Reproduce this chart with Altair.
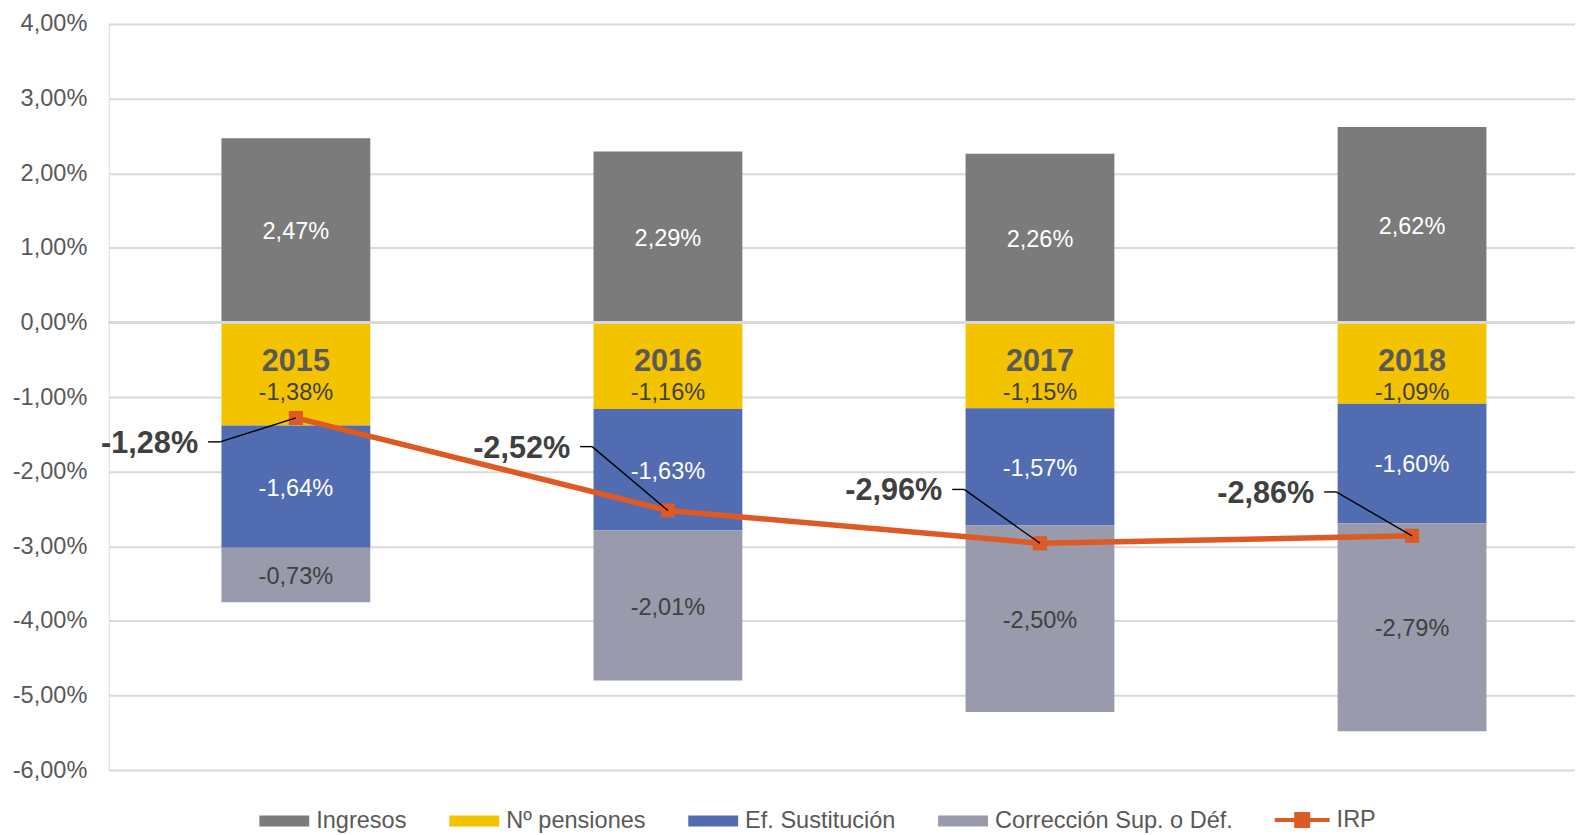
import altair as alt
import pandas as pd

# ---------------- data ----------------
years = ["2015", "2016", "2017", "2018"]
series = ["Ingresos", "Nº pensiones", "Ef. Sustitución", "Corrección Sup. o Déf."]
ingresos = [2.47, 2.29, 2.26, 2.62]
pensiones = [-1.38, -1.16, -1.15, -1.09]
sustitucion = [-1.64, -1.63, -1.57, -1.60]
correccion = [-0.73, -2.01, -2.50, -2.79]
irp = [-1.28, -2.52, -2.96, -2.86]
y_ticks = [-6, -5, -4, -3, -2, -1, 0, 1, 2, 3, 4]

# ---------------- style ----------------
colors = ["#7B7B7B", "#F4C300", "#516CB0", "#999AAB"]
IRP_COLOR = "#DE5A24"
GRID = "#D9D9D9"
FONT = "Liberation Sans"
# pixel offset (vertical) of each IRP call-out relative to its point
callout_dy = {"2015": 24, "2016": -64, "2017": -54, "2018": -44}

rows = []
for si, (name, vals) in enumerate(zip(series, [ingresos, pensiones, sustitucion, correccion])):
    for yr, v in zip(years, vals):
        rows.append({"year": yr, "serie": name, "value": v, "order": si})
bars_df = pd.DataFrame(rows)
irp_df = pd.DataFrame({"year": years, "irp": irp})


def fmt(v):
    return "replace(replace(format(" + v + ", '.2f'), '.', ','), '\u2212', '-') + '%'"


xscale = alt.Scale(domain=years, paddingInner=0.6, paddingOuter=0.2705, align=0.56, round=False)
yscale = alt.Scale(domain=[-6, 4], nice=False, zero=False)
X = alt.X("year:N", scale=xscale, axis=None)

yaxis = alt.Axis(values=y_ticks, labelExpr=fmt("datum.value"), grid=True, gridColor=GRID,
                 gridWidth=2, domain=False, ticks=False, tickSize=0, labelFontSize=23.6,
                 labelColor="#595959", labelPadding=22, title=None, labelFont=FONT)

base_b = alt.Chart(bars_df).transform_stack(
    stack="value", as_=["v0", "v1"], groupby=["year"],
    sort=[alt.SortField("order")], offset="zero"
).transform_calculate(
    mid="(datum.v0 + datum.v1) / 2", label=fmt("datum.value")
)

bars = base_b.mark_bar().encode(
    x=X,
    y=alt.Y("v0:Q", scale=yscale, axis=yaxis),
    y2="v1:Q",
    fill=alt.Fill("serie:N", scale=alt.Scale(domain=series, range=colors),
                  legend=alt.Legend(title=None, orient="none", legendX=151, legendY=786,
                                    direction="horizontal", columns=4,
                                    symbolType="M-1,-0.44L3,-0.44L3,0.44L-1,0.44Z",
                                    symbolSize=625, symbolStrokeWidth=0,
                                    labelFontSize=23.6, labelColor="#595959", labelFont=FONT,
                                    labelOffset=32, columnPadding=42.5, padding=0,
                                    labelLimit=0)),
)

bar_labels = base_b.transform_filter("datum.serie != 'Nº pensiones'").mark_text(
    fontSize=23.6, font=FONT, baseline="middle", dy=2
).encode(
    x=X, y=alt.Y("mid:Q", scale=yscale), text="label:N",
    color=alt.condition("datum.serie == 'Ingresos' || datum.serie == 'Ef. Sustitución'",
                        alt.value("white"), alt.value("#404040")),
)

pens_labels = base_b.transform_filter("datum.serie == 'Nº pensiones'").mark_text(
    fontSize=23.6, font=FONT, baseline="middle", dy=71, color="#404040"
).encode(x=X, y=alt.YDatum(0, scale=yscale), text="label:N")

year_labels = alt.Chart(irp_df).mark_text(
    fontSize=30.7, font=FONT, fontWeight="bold", color="#595959", baseline="middle", dy=40
).encode(x=X, y=alt.YDatum(0, scale=yscale), text="year:N")

zero_rule = alt.Chart(irp_df).mark_rule(color=GRID, strokeWidth=3).encode(
    y=alt.YDatum(0, scale=yscale))

irp_base = alt.Chart(irp_df).transform_calculate(
    nombre="'IRP'", label=fmt("datum.irp"))

line = irp_base.mark_line(strokeWidth=5.5).encode(
    x=X, y=alt.Y("irp:Q", scale=yscale),
    stroke=alt.Stroke("nombre:N", scale=alt.Scale(domain=["IRP"], range=[IRP_COLOR]),
                      legend=alt.Legend(title=None, orient="none", legendX=1167, legendY=783.5,
                                        direction="horizontal",
                                        symbolType="M-1,0L3.4,0M0.72,-0.48L1.68,-0.48L1.68,0.48L0.72,0.48Z",
                                        symbolSize=625, symbolStrokeWidth=4,
                                        symbolFillColor=IRP_COLOR,
                                        labelFontSize=23.6, labelColor="#595959", labelFont=FONT,
                                        labelOffset=35, padding=0, labelLimit=0)),
)

points = irp_base.mark_square(size=200, color=IRP_COLOR, opacity=1).encode(
    x=X, y=alt.Y("irp:Q", scale=yscale))

callouts = []
for yr in years:
    dy = callout_dy[yr]
    sub = irp_base.transform_filter(alt.datum.year == yr)
    callouts.append(sub.mark_rule(color="black", strokeWidth=1.4, xOffset=-88, x2Offset=-76,
                                  yOffset=dy, y2Offset=dy).encode(
        x=X, x2="year:N", y=alt.Y("irp:Q", scale=yscale), y2="irp:Q"))
    callouts.append(sub.mark_rule(color="black", strokeWidth=1.4, xOffset=-76, x2Offset=0,
                                  yOffset=dy, y2Offset=0).encode(
        x=X, x2="year:N", y=alt.Y("irp:Q", scale=yscale), y2="irp:Q"))
    callouts.append(sub.mark_text(align="right", baseline="middle", dx=-98, dy=dy + 2,
                                  fontSize=30.7, font=FONT, fontWeight="bold",
                                  color="#404040").encode(
        x=X, y=alt.Y("irp:Q", scale=yscale), text="label:N"))

chart = alt.layer(
    bars, bar_labels, pens_labels, year_labels, zero_rule, line, points, *callouts
).properties(
    width=1470, height=748,
    autosize=alt.AutoSizeParams(type="none"),
    padding={"left": 101, "top": 15, "right": 0, "bottom": 62},
).configure_view(stroke=None).configure(font=FONT)

chart.save("out.html", embed_options={"renderer": "svg", "actions": False})
